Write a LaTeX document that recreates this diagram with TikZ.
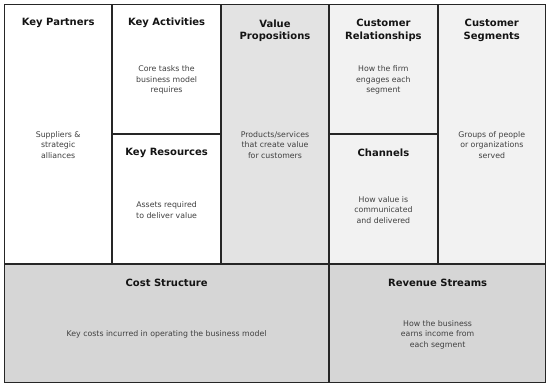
\documentclass[tikz,border=0pt]{standalone}
\usepackage{fontspec}
\setmainfont{DejaVu Sans}
\begin{document}
\begin{tikzpicture}[x=1pt,y=-1pt,
  cell/.style={draw=black!85,line width=1pt,inner sep=0pt,outer sep=0pt},
  ttl/.style={font=\fontsize{10}{12.5}\selectfont\bfseries,text=black!92,align=center,anchor=center},
  bdy/.style={font=\fontsize{7.8}{10.4}\selectfont,text=black!75,align=center,anchor=center}]
\useasboundingbox (0,0) rectangle (550,387);
\fill[white] (0,0) rectangle (550,387);
% column lines
\def\cA{4}\def\cB{112.4}\def\cC{220.8}\def\cD{329.2}\def\cE{437.6}\def\cF{546}
\def\rA{4}\def\rB{134}\def\rC{264}\def\rD{383}
% boxes
\path[cell,fill=white] (\cA+0.5,\rA+0.5) rectangle (\cB-0.5,\rC-0.5);
\coordinate (kp) at ({(\cA+\cB)/2},\rA);
\path[cell,fill=white] (\cB+0.5,\rA+0.5) rectangle (\cC-0.5,\rB-0.5);
\coordinate (ka) at ({(\cB+\cC)/2},\rA);
\path[cell,fill=white] (\cB+0.5,\rB+0.5) rectangle (\cC-0.5,\rC-0.5);
\coordinate (kr) at ({(\cB+\cC)/2},\rB);
\path[cell,fill=black!11] (\cC+0.5,\rA+0.5) rectangle (\cD-0.5,\rC-0.5);
\coordinate (vp) at ({(\cC+\cD)/2},\rA);
\path[cell,fill=black!5] (\cD+0.5,\rA+0.5) rectangle (\cE-0.5,\rB-0.5);
\coordinate (cr) at ({(\cD+\cE)/2},\rA);
\path[cell,fill=black!5] (\cD+0.5,\rB+0.5) rectangle (\cE-0.5,\rC-0.5);
\coordinate (ch) at ({(\cD+\cE)/2},\rB);
\path[cell,fill=black!5] (\cE+0.5,\rA+0.5) rectangle (\cF-0.5,\rC-0.5);
\coordinate (cs) at ({(\cE+\cF)/2},\rA);
\path[cell,fill=black!16] (\cA+0.5,\rC+0.5) rectangle (\cD-0.5,\rD-0.5);
\coordinate (cost) at ({(\cA+\cD)/2},\rC);
\path[cell,fill=black!16] (\cD+0.5,\rC+0.5) rectangle (\cF-0.5,\rD-0.5);
\coordinate (rev) at ({(\cD+\cF)/2},\rC);
% titles
\node[ttl] (kpT) at ([yshift=-18.5]kp) {Key Partners};
\node[ttl] (kaT) at ([yshift=-18.5]ka) {Key Activities};
\node[ttl] (krT) at ([yshift=-18.5]kr) {Key Resources};
\node[ttl,anchor=north] (vpT) at ([yshift=-12]vp) {Value\\Propositions};
\node[ttl,anchor=north] (crT) at ([yshift=-12]cr) {Customer\\Relationships};
\node[ttl] (chT) at ([yshift=-18.5]ch) {Channels};
\node[ttl,anchor=north] (csT) at ([yshift=-12]cs) {Customer\\Segments};
\node[ttl] (costT) at ([yshift=-18.5]cost) {Cost Structure};
\node[ttl] (revT) at ([yshift=-18.5]rev) {Revenue Streams};
% bodies
\node[bdy] (kpB) at ([yshift=-141]kp) {Suppliers \&\\strategic\\alliances};
\node[bdy] (kaB) at ([yshift=-76]ka) {Core tasks the\\business model\\requires};
\node[bdy] (krB) at ([yshift=-76]kr) {Assets required\\to deliver value};
\node[bdy] (vpB) at ([yshift=-141]vp) {Products/services\\that create value\\for customers};
\node[bdy] (crB) at ([yshift=-76]cr) {How the firm\\engages each\\segment};
\node[bdy] (chB) at ([yshift=-76]ch) {How value is\\communicated\\and delivered};
\node[bdy] (csB) at ([yshift=-141]cs) {Groups of people\\or organizations\\served};
\node[bdy] (costB) at ([yshift=-70.5]cost) {Key costs incurred in operating the business model};
\node[bdy] (revB) at ([yshift=-70.5]rev) {How the business\\earns income from\\each segment};
\end{tikzpicture}
\end{document}
